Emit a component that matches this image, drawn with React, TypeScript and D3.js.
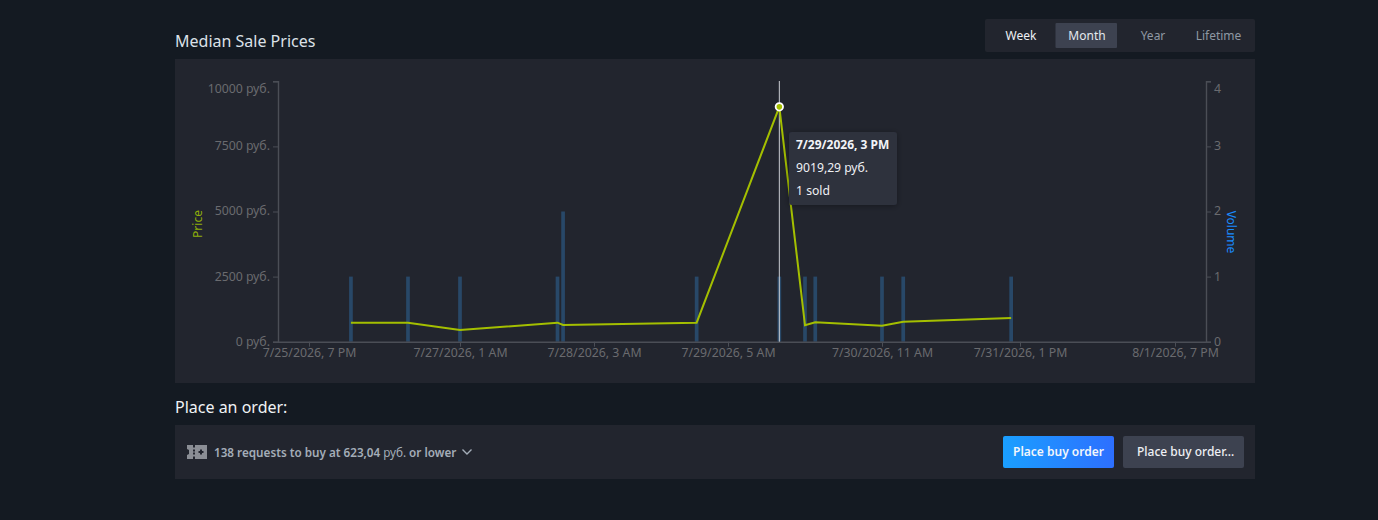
import React, { useEffect, useRef } from 'react';
import * as d3 from 'd3';

const saleTimes = [
    '2026-07-26 03:20', '2026-07-26 14:40', '2026-07-27 01:00', '2026-07-27 19:55',
    '2026-07-27 21:00', '2026-07-28 22:55', '2026-07-29 15:00', '2026-07-29 20:00',
    '2026-07-29 22:00', '2026-07-30 11:00', '2026-07-30 15:00', '2026-07-31 11:20'
];
const medianPrices = [730, 730, 450, 730, 640, 730, 9019.29, 630, 745, 615, 770, 910];
const volumes = [1, 1, 1, 1, 2, 1, 1, 1, 1, 1, 1, 1];
const xTickTimes = [
    '2026-07-25 19:00', '2026-07-27 01:00', '2026-07-28 03:00', '2026-07-29 05:00',
    '2026-07-30 11:00', '2026-07-31 13:00', '2026-08-01 19:00'
];
const priceTicks = [0, 2500, 5000, 7500, 10000];
const volumeTicks = [0, 1, 2, 3, 4];
const rangeTabs = ['Week', 'Month', 'Year', 'Lifetime'];
const hoveredIndex = 6;

const FONT = '"Noto Sans", sans-serif';
const parseTime = d3.utcParse('%Y-%m-%d %H:%M');
const formatTime = d3.utcFormat('%-m/%-d/%Y, %-I %p');

const App: React.FC = () => {
    const svgRef = useRef<SVGSVGElement>(null);

    useEffect(() => {
        if (!svgRef.current) return;
        const svg = d3.select(svgRef.current);
        svg.selectAll('*').remove();

        const defs = svg.append('defs');
        const grad = defs.append('linearGradient').attr('id', 'buyGrad');
        grad.append('stop').attr('offset', '0%').attr('stop-color', '#1a9fff');
        grad.append('stop').attr('offset', '100%').attr('stop-color', '#2d6fff');
        const shadow = defs.append('filter').attr('id', 'tipShadow')
            .attr('x', '-20%').attr('y', '-20%').attr('width', '140%').attr('height', '140%');
        shadow.append('feDropShadow').attr('dx', 0).attr('dy', 1).attr('stdDeviation', 3)
            .attr('flood-color', '#000').attr('flood-opacity', 0.35);

        // page
        svg.append('rect').attr('width', 1378).attr('height', 520).attr('fill', '#141a22');

        const label = (x: number, y: number, s: string, size: number, fill: string, anchor = 'start', weight = 400) =>
            svg.append('text').attr('x', x).attr('y', y).attr('font-size', size).attr('fill', fill)
                .attr('text-anchor', anchor).attr('font-weight', weight).attr('dominant-baseline', 'middle').text(s);

        label(175, 42.5, 'Median Sale Prices', 16, '#dce1e8');

        // range tabs
        svg.append('rect').attr('x', 985).attr('y', 19).attr('width', 270).attr('height', 33)
            .attr('rx', 2).attr('fill', '#22252e');
        svg.append('rect').attr('x', 1055.5).attr('y', 23).attr('width', 61.5).attr('height', 25)
            .attr('rx', 1).attr('fill', '#3d4250');
        const tabCenters = [1021, 1087, 1153, 1218.5];
        const tabColors = ['#eef1f5', '#e4e8ee', '#8f98a3', '#8f98a3'];
        rangeTabs.forEach((t, i) => label(tabCenters[i], 36.5, t, 12, tabColors[i], 'middle'));

        // chart panel
        svg.append('rect').attr('x', 175).attr('y', 59).attr('width', 1080).attr('height', 324).attr('fill', '#22252e');

        const times = saleTimes.map(d => parseTime(d) as Date);
        const xTicks = xTickTimes.map(d => parseTime(d) as Date);

        const x = d3.scaleUtc().domain(xTicks).range([309, 460, 594, 728, 882, 1020, 1175]);
        const yPrice = d3.scaleLinear().domain([0, 10000]).range([341.7, 81.3]);
        const yVolume = d3.scaleLinear().domain([0, 4]).range([341.7, 81.3]);

        // volume bars
        svg.append('g').selectAll('rect').data(volumes).join('rect')
            .attr('x', (_, i) => x(times[i]) - 1.85)
            .attr('y', d => yVolume(d))
            .attr('width', 3.7)
            .attr('height', d => yVolume(0) - yVolume(d))
            .attr('fill', '#284868');

        // axes
        const axisColor = '#4b4e56';
        const tickText = '#6a6b6f';
        const styleAxis = (g: d3.Selection<SVGGElement, unknown, null, undefined>) => {
            g.selectAll('.domain').attr('stroke', axisColor).attr('stroke-width', 1.4);
            g.selectAll('.tick line').attr('stroke', axisColor).attr('stroke-width', 1);
            g.selectAll('text').attr('fill', tickText).attr('font-size', 12.3).attr('font-family', FONT);
        };

        const leftAxis = svg.append('g').attr('transform', 'translate(278,0)')
            .call(d3.axisLeft(yPrice).tickValues(priceTicks).tickSize(5).tickSizeOuter(5).tickPadding(3)
                .tickFormat(d => `${d} руб.`));
        styleAxis(leftAxis);
        leftAxis.selectAll<SVGTextElement, number>('text').attr('dy', d => (d === 10000 ? '0.95em' : '0.28em'));

        const rightAxis = svg.append('g').attr('transform', 'translate(1206,0)')
            .call(d3.axisRight(yVolume).tickValues(volumeTicks).tickSize(5).tickSizeOuter(5).tickPadding(3)
                .tickFormat(d => String(d)));
        styleAxis(rightAxis);
        rightAxis.selectAll<SVGTextElement, number>('text').attr('dy', d => (d === 4 ? '0.95em' : '0.28em'));

        const bottomAxis = svg.append('g').attr('transform', 'translate(0,341.7)')
            .call(d3.axisBottom(x).tickValues(xTicks).tickSize(5).tickSizeOuter(0).tickPadding(2)
                .tickFormat(d => formatTime(d as Date)));
        styleAxis(bottomAxis);
        bottomAxis.select('.domain').attr('d', 'M278,0.5H1206');

        // axis titles
        svg.append('text').attr('transform', 'translate(199,224) rotate(-90)').attr('text-anchor', 'middle')
            .attr('dominant-baseline', 'middle').attr('font-size', 12).attr('fill', '#8fae0a').text('Price');
        svg.append('text').attr('transform', 'translate(1230.5,232) rotate(90)').attr('text-anchor', 'middle')
            .attr('dominant-baseline', 'middle').attr('font-size', 12).attr('fill', '#1a8cff').text('Volume');

        // hover marker
        const hx = x(times[hoveredIndex]);
        svg.append('line').attr('x1', hx).attr('x2', hx).attr('y1', 81).attr('y2', 341.7)
            .attr('stroke', '#c9ccd2').attr('stroke-width', 1);

        // price line
        const line = d3.line<number>().x((_, i) => x(times[i])).y(d => yPrice(d));
        svg.append('path').attr('d', line(medianPrices)).attr('fill', 'none')
            .attr('stroke', '#a4bf00').attr('stroke-width', 2);

        svg.append('circle').attr('cx', hx).attr('cy', yPrice(medianPrices[hoveredIndex])).attr('r', 3.7)
            .attr('fill', '#a4bf00').attr('stroke', '#fff').attr('stroke-width', 1.8);

        // tooltip
        svg.append('rect').attr('x', 789).attr('y', 132).attr('width', 108).attr('height', 73).attr('rx', 3)
            .attr('fill', '#2e323e').attr('filter', 'url(#tipShadow)');
        label(796, 146, formatTime(times[hoveredIndex]), 12, '#f2f4f7', 'start', 700);
        label(796, 168.5, '9019,29 руб.', 12.2, '#eef0f4');
        label(796, 191.5, `${volumes[hoveredIndex]} sold`, 12.2, '#eef0f4');

        // order section
        label(175, 408.5, 'Place an order:', 16, '#f0f2f5');
        svg.append('rect').attr('x', 175).attr('y', 425).attr('width', 1080).attr('height', 54).attr('fill', '#22252e');

        svg.append('path').attr('fill', '#8b8e95').attr('fill-rule', 'evenodd')
            .attr('d', 'M187,445H193V447.5H195V445H207V459H195V456.5H193V459H187V455L189,454V450L187,449ZM193,449.5V451.5H195V449.5ZM193,452.5V454.5H195V452.5ZM200,449.5V451H198.5V453H200V454.5H202V453H203.5V451H202V449.5Z');

        const requests = label(214, 453.5, '', 11.7, '#a4adb8', 'start', 600);
        requests.append('tspan').text('138 requests to buy at 623,04 ');
        requests.append('tspan').attr('font-weight', 400).text('руб.');
        requests.append('tspan').text(' or lower');
        svg.append('path').attr('d', 'M462.5,449.5L467,454L471.5,449.5').attr('fill', 'none')
            .attr('stroke', '#a4adb8').attr('stroke-width', 1.4);

        svg.append('rect').attr('x', 1003).attr('y', 436).attr('width', 111).attr('height', 32).attr('rx', 2)
            .attr('fill', 'url(#buyGrad)');
        label(1058.5, 453, 'Place buy order', 12, '#f2f6fb', 'middle', 600);
        svg.append('rect').attr('x', 1123).attr('y', 436).attr('width', 121).attr('height', 32).attr('rx', 2)
            .attr('fill', '#3d4250');
        label(1137, 453, 'Place buy order…', 12, '#eef0f4', 'start', 500);
    }, []);

    return (
        <svg
            ref={svgRef}
            width={1378}
            height={520}
            fontFamily={FONT}
            style={{ position: 'absolute', left: 0, top: 0, display: 'block' }}
        />
    );
};

export default App;
